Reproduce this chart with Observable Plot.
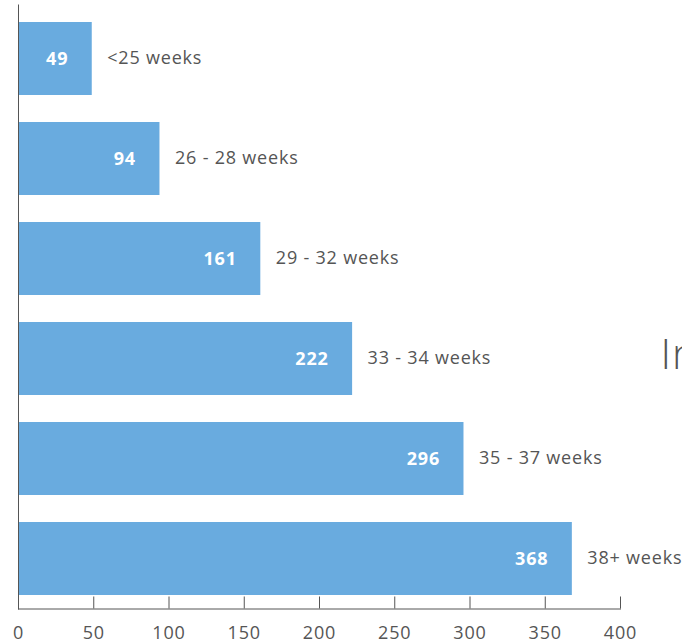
<!DOCTYPE html>
<html>
<head>
<meta charset="utf-8">
<script src="https://cdn.jsdelivr.net/npm/d3@7"></script>
<script src="https://cdn.jsdelivr.net/npm/@observablehq/plot@0.6"></script>
<style>
  html, body { margin: 0; padding: 0; background: #fff; }
  #chart { width: 682px; height: 643px; overflow: hidden; }
  #chart svg text { letter-spacing: 0.8px; }
</style>
</head>
<body>
<div id="chart"></div>
<script>
const categories = ["<25 weeks", "26 - 28 weeks", "29 - 32 weeks", "33 - 34 weeks", "35 - 37 weeks", "38+ weeks"];
const values = [49, 94, 161, 222, 296, 368];
const xTicks = [0, 50, 100, 150, 200, 250, 300, 350, 400];
const sideTitle = "In";

const data = categories.map((c, i) => ({category: c, value: values[i]}));

const font = "'Open Sans', sans-serif";
const chart = Plot.plot({
  width: 682,
  height: 643,
  marginLeft: 18,
  marginRight: 62,
  marginTop: 8.5,
  marginBottom: 34.5,
  style: {fontFamily: font, fontSize: "18px", color: "#555", background: "#fff", overflow: "visible"},
  x: {domain: [0, 400], ticks: xTicks, label: null},
  y: {domain: categories, paddingInner: 0.27, paddingOuter: 0.135, axis: null},
  marks: [
    Plot.barX(data, {x: "value", y: "category", fill: "#69abdf"}),
    Plot.frame({anchor: "left", stroke: "#555", insetTop: -4}),
    Plot.frame({anchor: "bottom", stroke: "#555"}),
    Plot.tickX(xTicks, {x: d => d, stroke: "#555", insetTop: 588}),
    Plot.axisX({ticks: xTicks, tickSize: 0, tickPadding: 17, fontSize: 18, fill: "#555", label: null}),
    Plot.text(data, {x: "value", y: "category", text: d => String(d.value), textAnchor: "end", dx: -24, fill: "#fff", fontWeight: 700, fontSize: 18}),
    Plot.text(data, {x: "value", y: "category", text: "category", textAnchor: "start", dx: 15, dy: -1, fill: "#555", fontSize: 18}),
    Plot.text([sideTitle], {frameAnchor: "right", text: d => d, textAnchor: "start", dx: 40, dy: 47, fontSize: 42, fontWeight: 300, fill: "#555"})
  ]
});
document.getElementById("chart").appendChild(chart);
</script>
</body>
</html>
